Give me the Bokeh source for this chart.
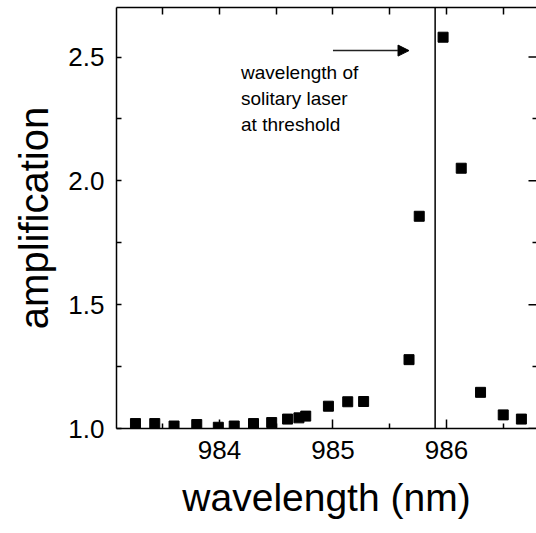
import numpy as np
from bokeh.plotting import figure
from bokeh.models import (LinearAxis, FixedTicker, PrintfTickFormatter, Span,
                          Arrow, NormalHead, Label, Range1d)
from bokeh.embed import file_html
from bokeh.resources import INLINE

# ---- data ----
wavelength = [983.26, 983.43, 983.60, 983.80, 983.99, 984.13, 984.30, 984.46,
              984.60, 984.70, 984.76, 984.96, 985.13, 985.27, 985.67, 985.76,
              985.97, 986.13, 986.30, 986.50, 986.66]
amplification = [1.020, 1.020, 1.010, 1.016, 1.005, 1.010, 1.020, 1.024,
                 1.038, 1.043, 1.050, 1.090, 1.108, 1.109, 1.278, 1.857,
                 2.580, 2.051, 1.146, 1.055, 1.038]

x_major = [984, 985, 986]
x_minor = [983.5, 984.5, 985.5, 986.5]
y_major = [1.0, 1.5, 2.0, 2.5]
y_minor = [1.25, 1.75, 2.25]

x_lo, x_hi = 983.093, 986.793
y_lo, y_hi = 1.0, 2.70

threshold_wavelength = 985.90
arrow_x = [985.0, 985.67]
arrow_y = 2.526
note_lines = ["wavelength of", "solitary laser", "at threshold"]
note_x = 984.19
note_y = [2.437, 2.332, 2.227]

FONT = "Liberation Sans"

p = figure(width=536, height=533, output_backend="svg", toolbar_location=None,
           x_range=Range1d(x_lo, x_hi), y_range=Range1d(y_lo, y_hi),
           min_border_left=116, min_border_right=0, min_border_top=7,
           min_border_bottom=105, x_axis_type=None, y_axis_type=None)
p.outline_line_color = None
p.grid.visible = False
p.background_fill_color = "white"
p.border_fill_color = "white"

def base_axis(ax, ticks, minor, major_len, minor_len):
    ax.ticker = FixedTicker(ticks=ticks, minor_ticks=minor)
    ax.major_tick_in = major_len
    ax.major_tick_out = 0
    ax.minor_tick_in = minor_len
    ax.minor_tick_out = 0
    ax.axis_line_color = "black"
    ax.axis_line_width = 1.5
    ax.major_tick_line_color = "black"
    ax.major_tick_line_width = 1.5
    ax.minor_tick_line_color = "black"
    ax.minor_tick_line_width = 1.5

xb = LinearAxis(axis_label="wavelength (nm)")
base_axis(xb, x_major, x_minor, 9, 5)
xb.major_label_text_font = FONT
xb.major_label_text_font_size = "26px"
xb.major_label_text_color = "black"
xb.major_label_standoff = 12
xb.axis_label_text_font = FONT
xb.axis_label_text_font_size = "39px"
xb.axis_label_text_font_style = "normal"
xb.axis_label_text_color = "black"
xb.axis_label_standoff = 14
p.add_layout(xb, "below")

yl = LinearAxis(axis_label="amplification", formatter=PrintfTickFormatter(format="%.1f"))
base_axis(yl, y_major, y_minor, 5, 5)
yl.major_label_text_font = FONT
yl.major_label_text_font_size = "26px"
yl.major_label_text_color = "black"
yl.major_label_standoff = 12
yl.axis_label_text_font = FONT
yl.axis_label_text_font_size = "40px"
yl.axis_label_text_font_style = "normal"
yl.axis_label_text_color = "black"
yl.axis_label_standoff = 9
p.add_layout(yl, "left")

# top spine: ticks only, no labels
xt = LinearAxis()
base_axis(xt, [], x_major + x_minor, 7, 7)
p.add_layout(xt, "above")

# right spine (outside the window): minor ticks from an axis, major ticks as rays
yr = LinearAxis()
base_axis(yr, [], y_minor, 8, 4)
yr.axis_line_color = None
p.add_layout(yr, "right")
p.ray(x=[x_hi] * len(y_major), y=y_major, length=8, angle=np.pi,
      length_units="screen", line_color="black", line_width=1.5)

p.add_layout(Span(location=threshold_wavelength, dimension="height",
                  line_color="black", line_width=1.5))

p.scatter(wavelength, amplification, marker="square", size=10,
          fill_color="black", line_color="black")

p.add_layout(Arrow(end=NormalHead(size=11, fill_color="black", line_color="black"),
                   x_start=arrow_x[0], y_start=arrow_y,
                   x_end=arrow_x[1], y_end=arrow_y,
                   line_color="#222222", line_width=1.5))

for txt, yy in zip(note_lines, note_y):
    p.add_layout(Label(x=note_x, y=yy, text=txt, text_font=FONT,
                       text_font_size="19px", text_color="black",
                       text_align="left", text_baseline="alphabetic"))

open("out.html", "w").write(file_html(p, INLINE))
